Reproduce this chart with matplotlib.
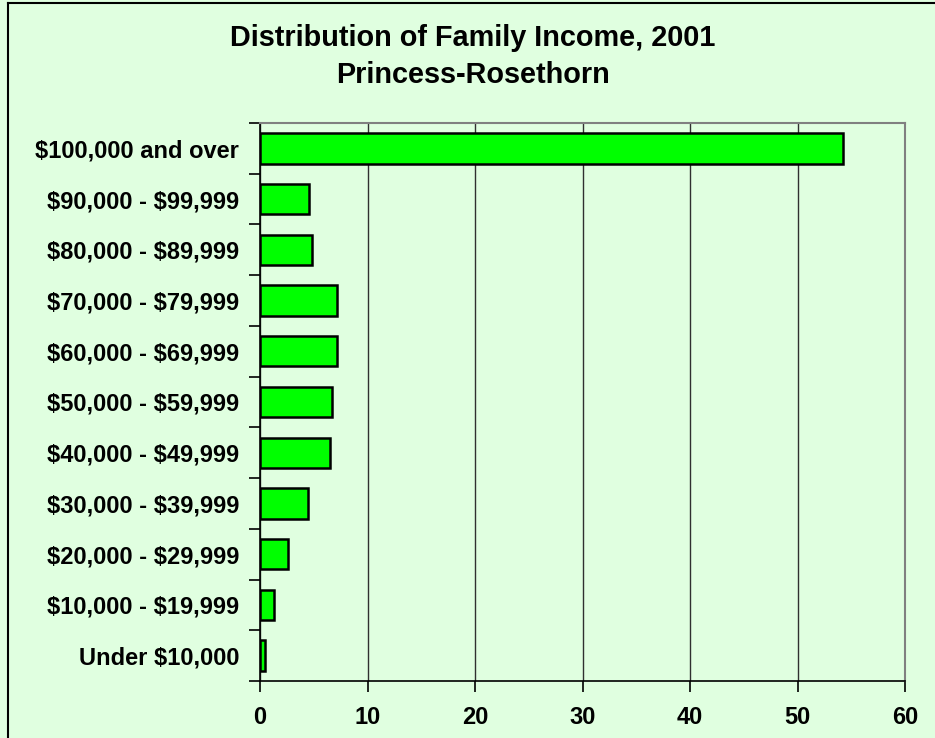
import numpy as np
from matplotlib import pyplot as plt
from matplotlib.lines import Line2D

categories = ['Under $10,000', '$10,000 - $19,999', '$20,000 - $29,999',
              '$30,000 - $39,999', '$40,000 - $49,999', '$50,000 - $59,999',
              '$60,000 - $69,999', '$70,000 - $79,999', '$80,000 - $89,999',
              '$90,000 - $99,999', '$100,000 and over']
percent = [0.5, 1.3, 2.6, 4.5, 6.5, 6.7, 7.2, 7.2, 4.8, 4.6, 54.2]
x_ticks = [0, 10, 20, 30, 40, 50, 60]

bg = '#E0FFE0'
plt.rcParams['font.family'] = ['Liberation Sans', 'DejaVu Sans']
plt.rcParams['font.weight'] = 'bold'
plt.rcParams['text.parse_math'] = False

fig = plt.figure(figsize=(9.35, 7.38), dpi=100, facecolor=bg)
ax = fig.add_axes([260 / 935, 1 - 681 / 738, 645 / 935, 558 / 738])
ax.set_facecolor(bg)

y = np.arange(len(categories))
ax.barh(y, percent, height=0.6, color='#00FF00', edgecolor='black', linewidth=1.8, zorder=3)

ax.set_xlim(0, 60)
ax.set_ylim(-0.5, len(categories) - 0.5)
ax.set_xticks(x_ticks)
ax.set_xticklabels([str(t) for t in x_ticks], fontsize=17, fontweight='bold')
ax.set_yticks(y)
ax.set_yticklabels(categories, fontsize=17, fontweight='bold')
ax.set_yticks(np.arange(len(categories) + 1) - 0.5, minor=True)
ax.tick_params(axis='y', which='major', length=0, pad=15)
ax.tick_params(axis='y', which='minor', length=8, width=1.2, color='black', direction='out')
ax.tick_params(axis='x', which='major', length=8, width=1.2, color='black', pad=10)

ax.grid(True, axis='x', color='#303030', linewidth=1.0, zorder=0)
ax.spines['left'].set_color('black')
ax.spines['bottom'].set_color('black')
ax.spines['left'].set_linewidth(1.2)
ax.spines['bottom'].set_linewidth(1.2)
ax.spines['top'].set_color('#808080')
ax.spines['right'].set_color('#808080')
ax.spines['top'].set_linewidth(1.5)
ax.spines['right'].set_linewidth(1.5)

fig.text(473 / 935, 1 - 38 / 738, 'Distribution of Family Income, 2001', ha='center', va='center',
         fontsize=20.8, fontweight='bold')
fig.text(473 / 935, 1 - 75 / 738, 'Princess-Rosethorn', ha='center', va='center',
         fontsize=20.8, fontweight='bold')

# outer chart border (right and bottom edges fall outside the picture)
fig.add_artist(Line2D([8 / 935, 8 / 935], [0, 1 - 3 / 738], transform=fig.transFigure, color='black', linewidth=1.5))
fig.add_artist(Line2D([8 / 935, 1], [1 - 3 / 738, 1 - 3 / 738], transform=fig.transFigure, color='black', linewidth=1.5))

fig.savefig('out.png', dpi=100, facecolor=bg)
